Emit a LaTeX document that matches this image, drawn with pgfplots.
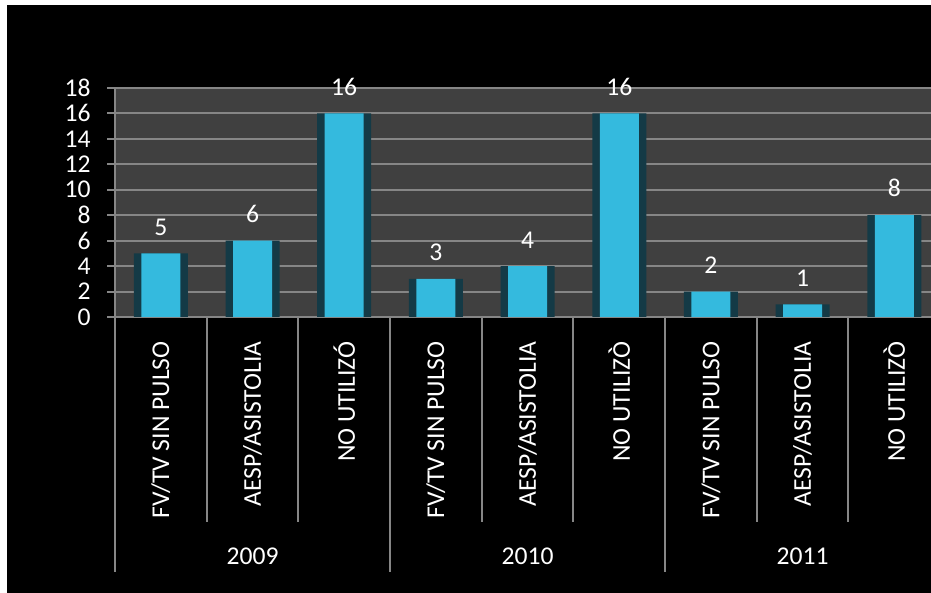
\documentclass[border=0pt]{standalone}
\usepackage{pgfplots}
\pgfplotsset{compat=1.18}
\usepackage{fontspec}
\setmainfont{Carlito}
\definecolor{gridc}{RGB}{134,134,134}
\definecolor{plotbg}{RGB}{64,64,64}
\definecolor{barmid}{RGB}{52,186,222}
\definecolor{barshadow}{RGB}{20,58,70}
\newcommand{\lblfont}{\fontsize{12.8}{15}\selectfont}
\begin{document}
\begin{tikzpicture}
\fill[white] (0pt,0pt) rectangle (465.5pt,296.5pt);
\fill[black] (3.5pt,0pt) rectangle (465.5pt,294pt);
\begin{axis}[
  at={(57.5pt,138pt)}, anchor=south west,
  scale only axis, width=408pt, height=114.5pt,
  xmin=-0.5, xmax=8.4, ymin=0, ymax=18,
  clip=false,
  axis background/.style={fill=plotbg},
  axis lines*=left,
  axis line style={gridc, line width=1pt},
  ytick={0,2,...,18},
  ymajorgrids,
  major grid style={gridc, line width=1pt},
  tick align=outside,
  major tick length=4pt,
  ytick style={gridc, line width=1pt},
  xtick={0,...,8},
  xtick style={draw=none},
  xticklabels={FV/TV SIN PULSO, AESP/ASISTOLIA, NO UTILIZÓ, FV/TV SIN PULSO, AESP/ASISTOLIA, NO UTILIZÒ, FV/TV SIN PULSO, AESP/ASISTOLIA, NO UTILIZÒ},
  xticklabel style={white, font=\lblfont, rotate=90, anchor=east, inner sep=0pt},
  xticklabel shift=8pt,
  yticklabel style={white, font=\lblfont, anchor=east, inner sep=0pt},
  yticklabel shift=8pt,
  /pgf/number format/assume math mode=true,
  every node near coord/.append style={white, font=\lblfont, yshift=5.5pt},
]
\addplot[ybar, bar width=27pt, bar shift=0pt, fill=barshadow, draw=none]
  coordinates {(0,5) (1,6) (2,16) (3,3) (4,4) (5,16) (6,2) (7,1) (8,8)};
\addplot[ybar, bar width=19.5pt, bar shift=0pt, fill=barmid, draw=none, nodes near coords]
  coordinates {(0,5) (1,6) (2,16) (3,3) (4,4) (5,16) (6,2) (7,1) (8,8)};
\foreach \xx in {0.5,1.5,3.5,4.5,6.5,7.5} {
  \edef\tmp{\noexpand\draw[gridc, line width=1pt] (axis cs:\xx,0) -- ++(0pt,-102.5pt);}\tmp
}
\foreach \xx in {-0.5,2.5,5.5} {
  \edef\tmp{\noexpand\draw[gridc, line width=1pt] (axis cs:\xx,0) -- ++(0pt,-127.5pt);}\tmp
}
\node[white, font=\lblfont] at ([yshift=-119.5pt]axis cs:1,0) {2009};
\node[white, font=\lblfont] at ([yshift=-119.5pt]axis cs:4,0) {2010};
\node[white, font=\lblfont] at ([yshift=-119.5pt]axis cs:7,0) {2011};
\end{axis}
\pgfresetboundingbox
\path[use as bounding box] (0pt,0pt) rectangle (465.5pt,296.5pt);
\end{tikzpicture}
\end{document}
